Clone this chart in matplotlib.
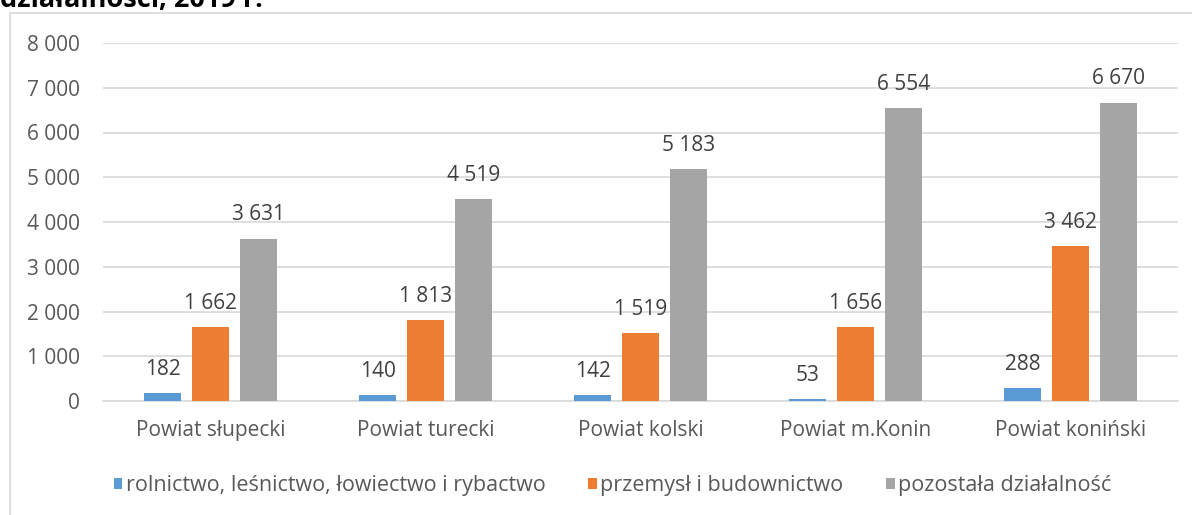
import matplotlib
matplotlib.use("Agg")
import matplotlib.pyplot as plt
from matplotlib.patches import Rectangle
import numpy as np

plt.rcParams['font.family'] = ['Open Sans', 'DejaVu Sans']

powiaty = ["Powiat słupecki", "Powiat turecki", "Powiat kolski", "Powiat m.Konin", "Powiat koniński"]
rolnictwo = [182, 140, 142, 53, 288]
przemysl = [1662, 1813, 1519, 1656, 3462]
pozostala = [3631, 4519, 5183, 6554, 6670]
series_names = ["rolnictwo, leśnictwo, łowiectwo i rybactwo", "przemysł i budownictwo", "pozostała działalność"]
colors = ["#5b9bd5", "#ed7d31", "#a5a5a5"]
yticks = [0, 1000, 2000, 3000, 4000, 5000, 6000, 7000, 8000]

txt = "#595959"


def fmt(v):
    return f"{v:,}".replace(",", " ")


fig = plt.figure(figsize=(11.92, 5.15), dpi=100)
fig.patches.append(Rectangle((10 / 1192, -0.1), 1.2, 1.1 - 13 / 515, transform=fig.transFigure,
                             fill=False, edgecolor="#d9d9d9", linewidth=1.2))
# title is cut off at the top edge in the reference
fig.text(0.0, 1 - 7 / 515, "działalności, 2019 r.", fontsize=19.5, fontweight="bold",
         color="black", ha="left", va="baseline")

ax = fig.add_axes([103 / 1192, 1 - 401 / 515, (1178 - 103) / 1192, (401 - 43) / 515])
x = np.arange(len(powiaty))
w = 0.172
step = 0.223
for i, (vals, name, c) in enumerate(zip([rolnictwo, przemysl, pozostala], series_names, colors)):
    pos = x + (i - 1) * step
    ax.bar(pos, vals, width=w, color=c, label=name, zorder=3)
    for p, v in zip(pos, vals):
        ax.annotate(fmt(v), (p, v), xytext=(0, 13), textcoords="offset points",
                    ha="center", va="baseline", fontsize=15, color="#404040")

ax.set_xlim(-0.5, len(powiaty) - 0.5)
ax.set_ylim(0, 8000)
ax.set_yticks(yticks)
ax.set_yticklabels([fmt(v) for v in yticks])
ax.set_xticks(x)
ax.set_xticklabels(powiaty)
ax.tick_params(axis="both", length=0, labelsize=15, labelcolor=txt)
ax.tick_params(axis="y", pad=16.5)
ax.tick_params(axis="x", pad=14)
ax.grid(axis="y", color="#d9d9d9", linewidth=1.2, zorder=0)
for s in ["top", "right", "left"]:
    ax.spines[s].set_visible(False)
ax.spines["bottom"].set_color("#d9d9d9")
ax.spines["bottom"].set_linewidth(1.2)

leg = fig.legend(loc="center", bbox_to_anchor=(0.514, 1 - 486 / 515), ncol=3, frameon=False,
                 fontsize=15.5, handlelength=0.4, handleheight=0.4, handletextpad=0.15,
                 columnspacing=2.0)
for t in leg.get_texts():
    t.set_color(txt)

fig.savefig("out.png", dpi=100)
